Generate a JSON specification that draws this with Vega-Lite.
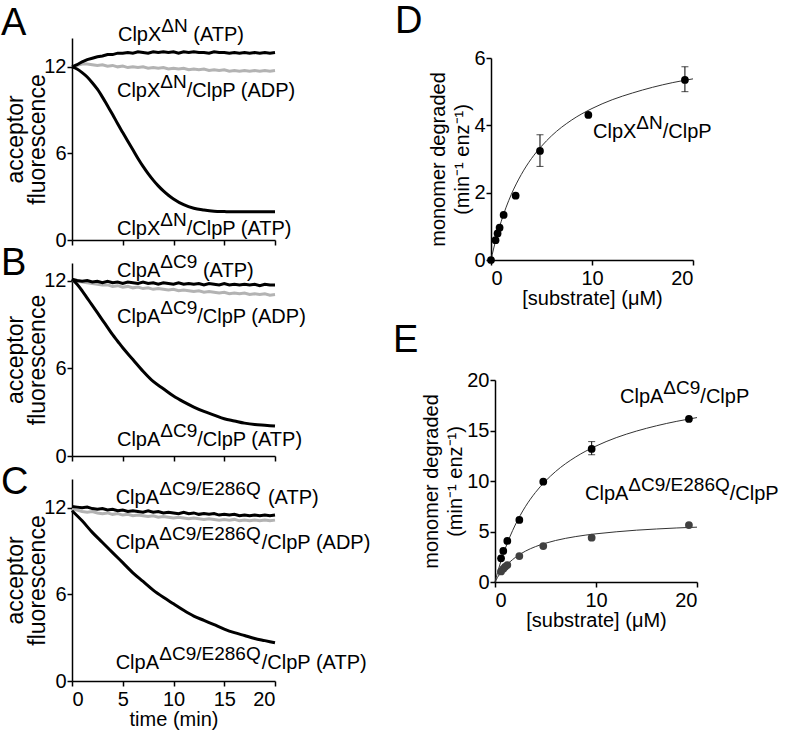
{
  "$schema": "https://vega.github.io/schema/vega-lite/v6.json",
  "background": "white",
  "autosize": {"type": "none"},
  "padding": {"left": 72, "top": 38, "right": 714, "bottom": 693},
  "config": {
    "font": "Liberation Sans",
    "view": {"stroke": null},
    "axis": {"grid": false, "domainColor": "#000", "domainWidth": 1.5, "tickColor": "#000", "tickWidth": 1.5, "tickSize": 5, "labelFontSize": 20, "labelColor": "#000", "labelFont": "Liberation Sans", "titleFont": "Liberation Sans", "titleFontSize": 20, "titleFontWeight": "normal", "titleColor": "#000", "titleLineHeight": 18},
    "axisX": {"labelPadding": 3, "titlePadding": 0},
    "axisY": {"labelPadding": 1, "titlePadding": 4},
    "text": {"font": "Liberation Sans", "color": "#000"}
  },
  "bounds": "flush",
  "spacing": 419,
  "hconcat": [
    {
      "bounds": "flush",
      "spacing": 23,
      "vconcat": [
        {
          "width": 203, "height": 202,
          "encoding": {
            "x": {"field": "x", "type": "quantitative", "scale": {"domain": [0, 20], "nice": false, "zero": false}, "axis": {"values": [0, 5, 10, 15, 20], "labels": false, "title": null}},
            "y": {"field": "y", "type": "quantitative", "scale": {"domain": [0, 14], "nice": false}, "axis": {"values": [0, 6, 12], "title": ["acceptor", "fluorescence"], "titleFontSize": 23, "titleLineHeight": 22, "titlePadding": -6}}
          },
          "layer": [
            {"data": {"values": [
              {"x":0,"y":12.0},{"x":0.5,"y":12.1},{"x":1,"y":12.2},{"x":1.5,"y":12.2},{"x":2,"y":12.15},{"x":2.5,"y":12.1},{"x":3,"y":12.15},{"x":3.5,"y":12.05},{"x":4,"y":12.1},{"x":4.5,"y":12.0},
              {"x":5,"y":12.05},{"x":5.5,"y":11.95},{"x":6,"y":12.0},{"x":6.5,"y":11.95},{"x":7,"y":12.0},{"x":7.5,"y":11.9},{"x":8,"y":11.95},{"x":8.5,"y":11.9},{"x":9,"y":11.95},{"x":9.5,"y":11.85},
              {"x":10,"y":11.9},{"x":10.5,"y":11.85},{"x":11,"y":11.9},{"x":11.5,"y":11.8},{"x":12,"y":11.85},{"x":12.5,"y":11.8},{"x":13,"y":11.85},{"x":13.5,"y":11.75},{"x":14,"y":11.8},{"x":14.5,"y":11.75},
              {"x":15,"y":11.8},{"x":15.5,"y":11.7},{"x":16,"y":11.75},{"x":16.5,"y":11.7},{"x":17,"y":11.75},{"x":17.5,"y":11.7},{"x":18,"y":11.75},{"x":18.5,"y":11.7},{"x":19,"y":11.75},{"x":19.5,"y":11.7},{"x":20,"y":11.75}
            ]}, "mark": {"type": "line", "color": "#b3b3b3", "strokeWidth": 3}},
            {"data": {"values": [
              {"x":0,"y":12.0},{"x":0.5,"y":12.15},{"x":1,"y":12.35},{"x":1.5,"y":12.5},{"x":2,"y":12.6},{"x":2.5,"y":12.7},{"x":3,"y":12.75},{"x":3.5,"y":12.85},{"x":4,"y":12.85},{"x":4.5,"y":12.95},
              {"x":5,"y":12.95},{"x":5.5,"y":13.0},{"x":6,"y":12.95},{"x":6.5,"y":13.05},{"x":7,"y":13.0},{"x":7.5,"y":12.95},{"x":8,"y":13.05},{"x":8.5,"y":13.0},{"x":9,"y":13.05},{"x":9.5,"y":13.0},
              {"x":10,"y":13.05},{"x":10.5,"y":12.95},{"x":11,"y":13.05},{"x":11.5,"y":13.0},{"x":12,"y":13.05},{"x":12.5,"y":13.0},{"x":13,"y":13.0},{"x":13.5,"y":12.95},{"x":14,"y":13.05},{"x":14.5,"y":13.0},
              {"x":15,"y":13.0},{"x":15.5,"y":12.95},{"x":16,"y":13.0},{"x":16.5,"y":12.95},{"x":17,"y":13.0},{"x":17.5,"y":12.95},{"x":18,"y":13.0},{"x":18.5,"y":12.95},{"x":19,"y":13.0},{"x":19.5,"y":12.95},{"x":20,"y":13.0}
            ]}, "mark": {"type": "line", "color": "#000", "strokeWidth": 3}},
            {"data": {"values": [
              {"x":0,"y":12.0},{"x":0.5,"y":11.85},{"x":1,"y":11.6},{"x":1.5,"y":11.3},{"x":2,"y":10.9},{"x":2.5,"y":10.45},{"x":3,"y":9.9},{"x":3.5,"y":9.3},{"x":4,"y":8.7},{"x":4.5,"y":8.05},
              {"x":5,"y":7.45},{"x":5.5,"y":6.85},{"x":6,"y":6.25},{"x":6.5,"y":5.65},{"x":7,"y":5.1},{"x":7.5,"y":4.6},{"x":8,"y":4.15},{"x":8.5,"y":3.75},{"x":9,"y":3.4},{"x":9.5,"y":3.1},
              {"x":10,"y":2.85},{"x":11,"y":2.45},{"x":12,"y":2.2},{"x":13,"y":2.08},{"x":14,"y":2.0},{"x":15,"y":1.97},{"x":16,"y":1.95},{"x":17,"y":1.95},{"x":18,"y":1.95},{"x":19,"y":1.95},{"x":20,"y":1.95}
            ]}, "mark": {"type": "line", "color": "#000", "strokeWidth": 3, "interpolate": "monotone"}},
            {"data": {"values": [
              {"x":4.53,"y":13.79,"t":"ClpX"},{"x":11.95,"y":13.79,"t":"(ATP)"},
              {"x":4.43,"y":9.91,"t":"ClpX"},{"x":11.3,"y":9.91,"t":"/ClpP (ADP)"},
              {"x":4.43,"y":0.35,"t":"ClpX"},{"x":11.3,"y":0.35,"t":"/ClpP (ATP)"}
            ]}, "mark": {"type": "text", "align": "left", "baseline": "alphabetic", "fontSize": 20}, "encoding": {"text": {"field": "t"}}},
            {"data": {"values": [
              {"x":8.8,"y":13.79,"t":"ΔN"},{"x":8.7,"y":9.91,"t":"ΔN"},{"x":8.7,"y":0.35,"t":"ΔN"}
            ]}, "mark": {"type": "text", "align": "left", "baseline": "alphabetic", "fontSize": 19, "dy": -9}, "encoding": {"text": {"field": "t"}}},
            {"data": {"values": [{"x":-7.0,"y":14.2,"t":"A"}]}, "mark": {"type": "text", "align": "left", "baseline": "alphabetic", "fontSize": 38}, "encoding": {"text": {"field": "t"}}}
          ]
        },
        {
          "width": 203, "height": 193,
          "encoding": {
            "x": {"field": "x", "type": "quantitative", "scale": {"domain": [0, 20], "nice": false, "zero": false}, "axis": {"values": [0, 5, 10, 15, 20], "labels": false, "title": null}},
            "y": {"field": "y", "type": "quantitative", "scale": {"domain": [0, 13.2], "nice": false}, "axis": {"values": [0, 6, 12], "title": ["acceptor", "fluorescence"], "titleFontSize": 23, "titleLineHeight": 22, "titlePadding": -6}}
          },
          "layer": [
            {"data": {"values": [
              {"x":0,"y":12.0},{"x":0.5,"y":11.95},{"x":1,"y":11.9},{"x":1.5,"y":11.85},{"x":2,"y":11.8},{"x":2.5,"y":11.75},{"x":3,"y":11.7},{"x":3.5,"y":11.7},{"x":4,"y":11.6},{"x":4.5,"y":11.65},
              {"x":5,"y":11.55},{"x":5.5,"y":11.6},{"x":6,"y":11.5},{"x":6.5,"y":11.55},{"x":7,"y":11.45},{"x":7.5,"y":11.5},{"x":8,"y":11.4},{"x":8.5,"y":11.45},{"x":9,"y":11.4},{"x":9.5,"y":11.35},
              {"x":10,"y":11.4},{"x":10.5,"y":11.3},{"x":11,"y":11.35},{"x":11.5,"y":11.3},{"x":12,"y":11.25},{"x":12.5,"y":11.3},{"x":13,"y":11.2},{"x":13.5,"y":11.25},{"x":14,"y":11.2},{"x":14.5,"y":11.15},
              {"x":15,"y":11.2},{"x":15.5,"y":11.1},{"x":16,"y":11.15},{"x":16.5,"y":11.1},{"x":17,"y":11.15},{"x":17.5,"y":11.05},{"x":18,"y":11.1},{"x":18.5,"y":11.05},{"x":19,"y":11.1},{"x":19.5,"y":11.0},{"x":20,"y":11.05}
            ]}, "mark": {"type": "line", "color": "#b3b3b3", "strokeWidth": 3}},
            {"data": {"values": [
              {"x":0,"y":12.1},{"x":0.5,"y":12.0},{"x":1,"y":11.95},{"x":1.5,"y":12.0},{"x":2,"y":11.9},{"x":2.5,"y":11.95},{"x":3,"y":11.85},{"x":3.5,"y":11.95},{"x":4,"y":11.85},{"x":4.5,"y":11.9},
              {"x":5,"y":11.8},{"x":5.5,"y":11.9},{"x":6,"y":11.85},{"x":6.5,"y":11.8},{"x":7,"y":11.9},{"x":7.5,"y":11.8},{"x":8,"y":11.85},{"x":8.5,"y":11.75},{"x":9,"y":11.85},{"x":9.5,"y":11.8},
              {"x":10,"y":11.75},{"x":10.5,"y":11.85},{"x":11,"y":11.75},{"x":11.5,"y":11.8},{"x":12,"y":11.75},{"x":12.5,"y":11.8},{"x":13,"y":11.7},{"x":13.5,"y":11.8},{"x":14,"y":11.75},{"x":14.5,"y":11.7},
              {"x":15,"y":11.8},{"x":15.5,"y":11.7},{"x":16,"y":11.75},{"x":16.5,"y":11.7},{"x":17,"y":11.75},{"x":17.5,"y":11.7},{"x":18,"y":11.75},{"x":18.5,"y":11.65},{"x":19,"y":11.75},{"x":19.5,"y":11.7},{"x":20,"y":11.7}
            ]}, "mark": {"type": "line", "color": "#000", "strokeWidth": 3}},
            {"data": {"values": [
              {"x":0,"y":12.1},{"x":0.5,"y":11.75},{"x":1,"y":11.3},{"x":1.5,"y":10.8},{"x":2,"y":10.3},{"x":2.5,"y":9.8},{"x":3,"y":9.3},{"x":3.5,"y":8.8},{"x":4,"y":8.3},{"x":4.5,"y":7.85},
              {"x":5,"y":7.4},{"x":6,"y":6.6},{"x":7,"y":5.8},{"x":8,"y":5.1},{"x":9,"y":4.6},{"x":10,"y":4.1},{"x":11,"y":3.7},{"x":12,"y":3.35},{"x":13,"y":3.05},{"x":14,"y":2.8},
              {"x":15,"y":2.55},{"x":16,"y":2.4},{"x":17,"y":2.25},{"x":18,"y":2.15},{"x":19,"y":2.1},{"x":20,"y":2.05}
            ]}, "mark": {"type": "line", "color": "#000", "strokeWidth": 3, "interpolate": "monotone"}},
            {"data": {"values": [
              {"x":4.43,"y":12.24,"t":"ClpA"},{"x":12.9,"y":12.24,"t":"(ATP)"},
              {"x":4.43,"y":9.1,"t":"ClpA"},{"x":12.34,"y":9.1,"t":"/ClpP (ADP)"},
              {"x":4.43,"y":0.68,"t":"ClpA"},{"x":12.34,"y":0.68,"t":"/ClpP (ATP)"}
            ]}, "mark": {"type": "text", "align": "left", "baseline": "alphabetic", "fontSize": 20}, "encoding": {"text": {"field": "t"}}},
            {"data": {"values": [
              {"x":8.7,"y":12.24,"t":"ΔC9"},{"x":8.7,"y":9.1,"t":"ΔC9"},{"x":8.7,"y":0.68,"t":"ΔC9"}
            ]}, "mark": {"type": "text", "align": "left", "baseline": "alphabetic", "fontSize": 19, "dy": -9}, "encoding": {"text": {"field": "t"}}},
            {"data": {"values": [{"x":-7.0,"y":12.38,"t":"B"}]}, "mark": {"type": "text", "align": "left", "baseline": "alphabetic", "fontSize": 38}, "encoding": {"text": {"field": "t"}}}
          ]
        },
        {
          "width": 203, "height": 202,
          "encoding": {
            "x": {"field": "x", "type": "quantitative", "scale": {"domain": [0, 20], "nice": false, "zero": false}, "axis": {"values": [0, 5, 10, 15, 20], "title": "time (min)"}},
            "y": {"field": "y", "type": "quantitative", "scale": {"domain": [0, 14], "nice": false}, "axis": {"values": [0, 6, 12], "title": ["acceptor", "fluorescence"], "titleFontSize": 23, "titleLineHeight": 22, "titlePadding": -6}}
          },
          "layer": [
            {"data": {"values": [
              {"x":0,"y":11.9},{"x":0.5,"y":11.85},{"x":1,"y":11.75},{"x":1.5,"y":11.7},{"x":2,"y":11.75},{"x":2.5,"y":11.65},{"x":3,"y":11.6},{"x":3.5,"y":11.65},{"x":4,"y":11.55},{"x":4.5,"y":11.6},
              {"x":5,"y":11.5},{"x":5.5,"y":11.55},{"x":6,"y":11.45},{"x":6.5,"y":11.5},{"x":7,"y":11.45},{"x":7.5,"y":11.4},{"x":8,"y":11.45},{"x":8.5,"y":11.35},{"x":9,"y":11.4},{"x":9.5,"y":11.35},
              {"x":10,"y":11.3},{"x":10.5,"y":11.35},{"x":11,"y":11.3},{"x":11.5,"y":11.25},{"x":12,"y":11.3},{"x":12.5,"y":11.25},{"x":13,"y":11.2},{"x":13.5,"y":11.25},{"x":14,"y":11.2},{"x":14.5,"y":11.15},
              {"x":15,"y":11.2},{"x":15.5,"y":11.15},{"x":16,"y":11.2},{"x":16.5,"y":11.1},{"x":17,"y":11.15},{"x":17.5,"y":11.1},{"x":18,"y":11.15},{"x":18.5,"y":11.1},{"x":19,"y":11.15},{"x":19.5,"y":11.1},{"x":20,"y":11.15}
            ]}, "mark": {"type": "line", "color": "#b3b3b3", "strokeWidth": 3}},
            {"data": {"values": [
              {"x":0,"y":12.1},{"x":0.5,"y":12.05},{"x":1,"y":12.0},{"x":1.5,"y":12.05},{"x":2,"y":11.95},{"x":2.5,"y":11.9},{"x":3,"y":11.95},{"x":3.5,"y":11.85},{"x":4,"y":11.9},{"x":4.5,"y":11.8},
              {"x":5,"y":11.85},{"x":5.5,"y":11.75},{"x":6,"y":11.8},{"x":6.5,"y":11.75},{"x":7,"y":11.7},{"x":7.5,"y":11.8},{"x":8,"y":11.7},{"x":8.5,"y":11.75},{"x":9,"y":11.65},{"x":9.5,"y":11.7},
              {"x":10,"y":11.65},{"x":10.5,"y":11.6},{"x":11,"y":11.7},{"x":11.5,"y":11.6},{"x":12,"y":11.65},{"x":12.5,"y":11.55},{"x":13,"y":11.6},{"x":13.5,"y":11.55},{"x":14,"y":11.6},{"x":14.5,"y":11.5},
              {"x":15,"y":11.55},{"x":15.5,"y":11.5},{"x":16,"y":11.55},{"x":16.5,"y":11.45},{"x":17,"y":11.5},{"x":17.5,"y":11.45},{"x":18,"y":11.5},{"x":18.5,"y":11.45},{"x":19,"y":11.5},{"x":19.5,"y":11.45},{"x":20,"y":11.5}
            ]}, "mark": {"type": "line", "color": "#000", "strokeWidth": 3}},
            {"data": {"values": [
              {"x":0,"y":11.8},{"x":1,"y":11.1},{"x":2,"y":10.3},{"x":3,"y":9.6},{"x":4,"y":8.9},{"x":5,"y":8.2},{"x":6,"y":7.5},{"x":7,"y":6.9},{"x":8,"y":6.3},{"x":9,"y":5.8},
              {"x":10,"y":5.35},{"x":11,"y":4.9},{"x":12,"y":4.5},{"x":13,"y":4.2},{"x":14,"y":3.9},{"x":15,"y":3.6},{"x":16,"y":3.35},{"x":17,"y":3.15},{"x":18,"y":2.95},{"x":19,"y":2.8},{"x":20,"y":2.65}
            ]}, "mark": {"type": "line", "color": "#000", "strokeWidth": 3, "interpolate": "monotone"}},
            {"data": {"values": [
              {"x":4.3,"y":12.27,"t":"ClpA"},{"x":19.3,"y":12.27,"t":"(ATP)"},
              {"x":4.3,"y":9.15,"t":"ClpA"},{"x":18.7,"y":9.15,"t":"/ClpP (ADP)"},
              {"x":4.3,"y":0.83,"t":"ClpA"},{"x":18.7,"y":0.83,"t":"/ClpP (ATP)"}
            ]}, "mark": {"type": "text", "align": "left", "baseline": "alphabetic", "fontSize": 20}, "encoding": {"text": {"field": "t"}}},
            {"data": {"values": [
              {"x":8.6,"y":12.27,"t":"ΔC9/E286Q"},{"x":8.6,"y":9.15,"t":"ΔC9/E286Q"},{"x":8.6,"y":0.83,"t":"ΔC9/E286Q"}
            ]}, "mark": {"type": "text", "align": "left", "baseline": "alphabetic", "fontSize": 19, "dy": -9}, "encoding": {"text": {"field": "t"}}},
            {"data": {"values": [{"x":-7.0,"y":12.96,"t":"C"}]}, "mark": {"type": "text", "align": "left", "baseline": "alphabetic", "fontSize": 38}, "encoding": {"text": {"field": "t"}}}
          ]
        }
      ]
    },
    {
      "bounds": "flush",
      "spacing": 10,
      "vconcat": [
        {"width": 10, "height": 10, "data": {"values": []}, "mark": "point"},
        {
          "bounds": "flush",
          "spacing": 120,
          "vconcat": [
            {
              "width": 202, "height": 202,
              "encoding": {
                "x": {"field": "x", "type": "quantitative", "scale": {"domain": [0, 20], "nice": false}, "axis": {"values": [0, 10, 20], "title": "[substrate] (μM)"}},
                "y": {"field": "y", "type": "quantitative", "scale": {"domain": [0, 6], "nice": false}, "axis": {"values": [0, 2, 4, 6], "title": ["monomer degraded", "(min⁻¹ enz⁻¹)"], "titleLineHeight": 24, "titlePadding": 1}}
              },
              "layer": [
                {"data": {"values": [
                  {"x":0,"y":0},{"x":0.25,"y":0.325},{"x":0.5,"y":0.62},{"x":1,"y":1.136},{"x":1.5,"y":1.57},{"x":2,"y":1.94},{"x":3,"y":2.54},{"x":4,"y":3.01},{"x":5,"y":3.38},
                  {"x":6,"y":3.69},{"x":8,"y":4.16},{"x":10,"y":4.5},{"x":12,"y":4.76},{"x":14,"y":4.96},{"x":16,"y":5.13},{"x":18,"y":5.27},{"x":20,"y":5.38}
                ]}, "mark": {"type": "line", "color": "#333", "strokeWidth": 1, "interpolate": "monotone"}},
                {"data": {"values": [{"x":4.85,"y":2.78,"y2":3.72},{"x":19.2,"y":5.0,"y2":5.74}]}, "mark": {"type": "rule", "color": "#000", "strokeWidth": 1}, "encoding": {"y2": {"field": "y2"}}},
                {"data": {"values": [{"x":4.85,"y":2.78},{"x":4.85,"y":3.72},{"x":19.2,"y":5.0},{"x":19.2,"y":5.74}]}, "mark": {"type": "tick", "orient": "horizontal", "color": "#000", "size": 7, "thickness": 1}},
                {"data": {"values": [
                  {"x":0,"y":0},{"x":0.45,"y":0.59},{"x":0.65,"y":0.79},{"x":0.85,"y":0.96},{"x":1.25,"y":1.34},{"x":2.44,"y":1.91},{"x":4.85,"y":3.24},{"x":9.64,"y":4.31},{"x":19.2,"y":5.35}
                ]}, "mark": {"type": "point", "filled": true, "color": "#000", "opacity": 1, "size": 60}},
                {"data": {"values": [{"x":10.1,"y":3.62,"t":"ClpX"},{"x":17.0,"y":3.62,"t":"/ClpP"}]}, "mark": {"type": "text", "align": "left", "baseline": "alphabetic", "fontSize": 20}, "encoding": {"text": {"field": "t"}}},
                {"data": {"values": [{"x":14.39,"y":3.62,"t":"ΔN"}]}, "mark": {"type": "text", "align": "left", "baseline": "alphabetic", "fontSize": 19, "dy": -9}, "encoding": {"text": {"field": "t"}}},
                {"data": {"values": [{"x":-9.5,"y":6.74,"t":"D"}]}, "mark": {"type": "text", "align": "left", "baseline": "alphabetic", "fontSize": 38}, "encoding": {"text": {"field": "t"}}}
              ]
            },
            {
              "bounds": "flush",
              "spacing": 3,
              "hconcat": [
                {"width": 1, "height": 1, "data": {"values": []}, "mark": "point"},
                {
                  "width": 202, "height": 202,
                  "encoding": {
                    "x": {"field": "x", "type": "quantitative", "scale": {"domain": [0, 20], "nice": false}, "axis": {"values": [0, 10, 20], "title": "[substrate] (μM)"}},
                    "y": {"field": "y", "type": "quantitative", "scale": {"domain": [0, 20], "nice": false}, "axis": {"values": [0, 5, 10, 15, 20], "title": ["monomer degraded", "(min⁻¹ enz⁻¹)"], "titleLineHeight": 24, "titlePadding": 1}}
                  },
                  "layer": [
                    {"data": {"values": [
                      {"x":0,"y":0},{"x":0.25,"y":0.93},{"x":0.5,"y":1.78},{"x":1,"y":3.27},{"x":1.5,"y":4.54},{"x":2,"y":5.64},{"x":3,"y":7.45},{"x":4,"y":8.86},{"x":5,"y":10.0},
                      {"x":6,"y":10.94},{"x":8,"y":12.39},{"x":10,"y":13.46},{"x":12,"y":14.29},{"x":14,"y":14.94},{"x":16,"y":15.47},{"x":18,"y":15.91},{"x":20,"y":16.28}
                    ]}, "mark": {"type": "line", "color": "#333", "strokeWidth": 1, "interpolate": "monotone"}},
                    {"data": {"values": [
                      {"x":0,"y":0},{"x":0.25,"y":0.46},{"x":0.5,"y":0.85},{"x":1,"y":1.5},{"x":1.5,"y":2.01},{"x":2,"y":2.42},{"x":3,"y":3.05},{"x":4,"y":3.5},{"x":5,"y":3.84},
                      {"x":6,"y":4.11},{"x":8,"y":4.5},{"x":10,"y":4.77},{"x":12,"y":4.97},{"x":14,"y":5.13},{"x":16,"y":5.25},{"x":18,"y":5.35},{"x":20,"y":5.43}
                    ]}, "mark": {"type": "line", "color": "#333", "strokeWidth": 1, "interpolate": "monotone"}},
                    {"data": {"values": [{"x":9.57,"y":12.6,"y2":13.9}]}, "mark": {"type": "rule", "color": "#000", "strokeWidth": 1}, "encoding": {"y2": {"field": "y2"}}},
                    {"data": {"values": [{"x":9.57,"y":12.6},{"x":9.57,"y":13.9}]}, "mark": {"type": "tick", "orient": "horizontal", "color": "#000", "size": 7, "thickness": 1}},
                    {"data": {"values": [
                      {"x":0.6,"y":1.05},{"x":0.82,"y":1.3},{"x":1.0,"y":1.5},{"x":1.22,"y":1.68},{"x":2.41,"y":2.57},{"x":4.78,"y":3.56},{"x":9.57,"y":4.39},{"x":19.2,"y":5.64}
                    ]}, "mark": {"type": "point", "filled": true, "color": "#404040", "opacity": 1, "size": 60}},
                    {"data": {"values": [
                      {"x":0.6,"y":2.35},{"x":0.82,"y":3.07},{"x":1.22,"y":4.06},{"x":2.41,"y":6.14},{"x":4.78,"y":9.93},{"x":9.57,"y":13.17},{"x":19.2,"y":16.14}
                    ]}, "mark": {"type": "point", "filled": true, "color": "#000", "opacity": 1, "size": 60}},
                    {"data": {"values": [
                      {"x":12.38,"y":17.72,"t":"ClpA"},{"x":20.33,"y":17.72,"t":"/ClpP"},
                      {"x":8.91,"y":8.12,"t":"ClpA"},{"x":23.24,"y":8.12,"t":"/ClpP"}
                    ]}, "mark": {"type": "text", "align": "left", "baseline": "alphabetic", "fontSize": 20}, "encoding": {"text": {"field": "t"}}},
                    {"data": {"values": [
                      {"x":16.66,"y":17.72,"t":"ΔC9"},{"x":13.2,"y":8.12,"t":"ΔC9/E286Q"}
                    ]}, "mark": {"type": "text", "align": "left", "baseline": "alphabetic", "fontSize": 19, "dy": -9}, "encoding": {"text": {"field": "t"}}},
                    {"data": {"values": [{"x":-10.1,"y":22.8,"t":"E"}]}, "mark": {"type": "text", "align": "left", "baseline": "alphabetic", "fontSize": 38}, "encoding": {"text": {"field": "t"}}}
                  ]
                }
              ]
            }
          ]
        }
      ]
    }
  ]
}
